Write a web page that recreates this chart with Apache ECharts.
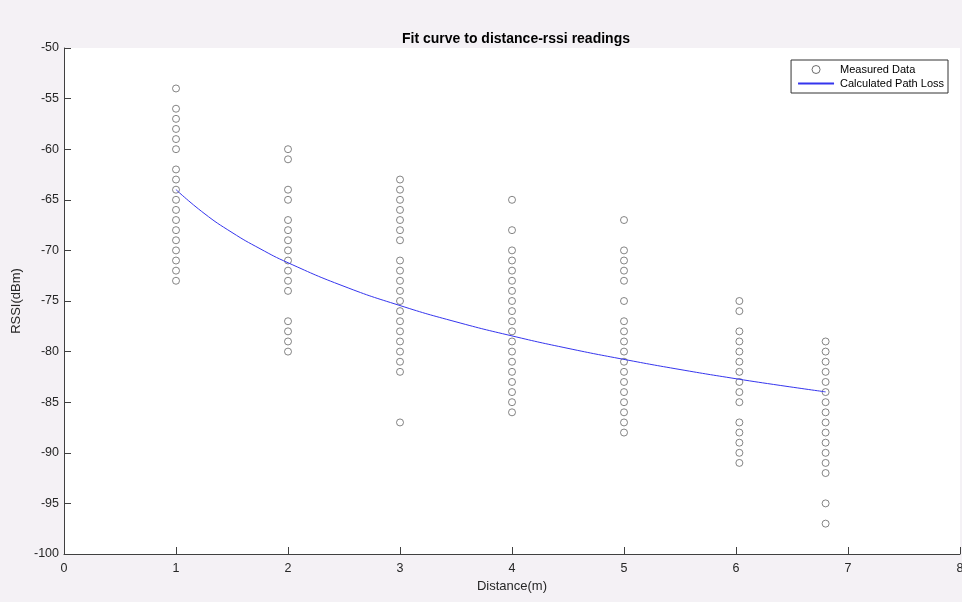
<!DOCTYPE html>
<html>
<head>
<meta charset="utf-8">
<script src="https://cdn.jsdelivr.net/npm/echarts@6/dist/echarts.min.js"></script>
<style>
  html, body { margin: 0; padding: 0; background: #f4f1f5; }
  #chart { width: 962px; height: 602px; }
</style>
</head>
<body>
<div id="chart"></div>
<script>
// Measured RSSI readings (dBm) grouped by distance (m)
const distances = [1, 2, 3, 4, 5, 6.03, 6.8];
const rssiAt1 = [-54, -56, -57, -58, -59, -60, -62, -63, -64, -65, -66, -67, -68, -69, -70, -71, -72, -73];
const rssiAt2 = [-60, -61, -64, -65, -67, -68, -69, -70, -71, -72, -73, -74, -77, -78, -79, -80];
const rssiAt3 = [-63, -64, -65, -66, -67, -68, -69, -71, -72, -73, -74, -75, -76, -77, -78, -79, -80, -81, -82, -87];
const rssiAt4 = [-65, -68, -70, -71, -72, -73, -74, -75, -76, -77, -78, -79, -80, -81, -82, -83, -84, -85, -86];
const rssiAt5 = [-67, -70, -71, -72, -73, -75, -77, -78, -79, -80, -81, -82, -83, -84, -85, -86, -87, -88];
const rssiAt6 = [-75, -76, -78, -79, -80, -81, -82, -83, -84, -85, -87, -88, -89, -90, -91];
const rssiAt7 = [-79, -80, -81, -82, -83, -84, -85, -86, -87, -88, -89, -90, -91, -92, -95, -97];

// Path loss curve, sampled along distance
const curveDistance = [1, 1.25, 1.5, 1.75, 2, 2.5, 3, 3.5, 4, 4.5, 5, 5.5, 6, 6.4, 6.8];
const curveRssi = [-64.0, -66.33, -68.23, -69.83, -71.22, -73.55, -75.45, -77.06, -78.45, -79.68, -80.77, -81.77, -82.68, -83.35, -83.98];

// Axis ticks
const xTicks = [0, 1, 2, 3, 4, 5, 6, 7, 8];
const yTicks = [-100, -95, -90, -85, -80, -75, -70, -65, -60, -55, -50];

const groups = [rssiAt1, rssiAt2, rssiAt3, rssiAt4, rssiAt5, rssiAt6, rssiAt7];
const measured = [];
groups.forEach((vals, i) => vals.forEach(v => measured.push([distances[i], v])));
const curve = curveDistance.map((d, i) => [d, curveRssi[i]]);

const font = 'Liberation Sans, Arial, sans-serif';
const textColor = '#262626';
const axisColor = '#404040';
const markColor = '#555555';
const lineColor = '#3535ee';

const chart = echarts.init(document.getElementById('chart'), null, { renderer: 'canvas' });
chart.setOption({
  backgroundColor: '#f4f1f5',
  animation: false,
  title: {
    text: 'Fit curve to distance-rssi readings',
    left: 511, top: 27, textAlign: 'center',
    textStyle: { fontFamily: font, fontSize: 14, fontWeight: 'bold', color: '#000' }
  },
  grid: {
    left: 64, top: 48, right: 2, bottom: 48,
    outerBoundsMode: 'none',
    show: true, backgroundColor: '#ffffff', borderWidth: 0
  },
  legend: {
    orient: 'vertical',
    right: 14, top: 60,
    backgroundColor: '#ffffff',
    borderColor: '#333', borderWidth: 1, borderRadius: 0,
    padding: [4, 4, 4, 6],
    itemGap: 3, itemWidth: 36, itemHeight: 8,
    textStyle: { fontFamily: font, fontSize: 11, color: '#000', padding: [0, 0, 0, 1] },
    data: [
      { name: 'Measured Data', itemStyle: { color: '#ffffff', borderColor: '#333', borderWidth: 0.9 } },
      { name: 'Calculated Path Loss', itemStyle: { opacity: 0 } }
    ]
  },
  xAxis: {
    type: 'value', min: xTicks[0], max: xTicks[xTicks.length - 1], interval: 1,
    name: 'Distance(m)', nameLocation: 'middle', nameGap: 25,
    nameTextStyle: { fontFamily: font, fontSize: 13, color: textColor },
    axisLine: { show: true, lineStyle: { color: axisColor, width: 1 } },
    axisTick: { show: true, inside: true, length: 7, lineStyle: { color: axisColor } },
    axisLabel: { fontFamily: font, fontSize: 12.5, color: textColor, margin: 8 },
    splitLine: { show: false }
  },
  yAxis: {
    type: 'value', min: yTicks[0], max: yTicks[yTicks.length - 1], interval: 5,
    name: 'RSSI(dBm)', nameLocation: 'middle', nameGap: 33, nameRotate: 90,
    nameTextStyle: { fontFamily: font, fontSize: 13, color: textColor },
    axisLine: { show: true, lineStyle: { color: axisColor, width: 1 } },
    axisTick: { show: true, inside: true, length: 7, lineStyle: { color: axisColor } },
    axisLabel: { fontFamily: font, fontSize: 12.5, color: textColor, margin: 5 },
    splitLine: { show: false }
  },
  series: [
    {
      name: 'Measured Data',
      type: 'scatter',
      data: measured,
      symbol: 'circle',
      symbolSize: 7,
      itemStyle: { color: '#ffffff', borderColor: markColor, borderWidth: 0.9 },
      z: 2
    },
    {
      name: 'Calculated Path Loss',
      type: 'line',
      data: curve,
      smooth: true,
      symbol: 'none',
      lineStyle: { color: lineColor, width: 1 },
      itemStyle: { color: lineColor },
      z: 3
    }
  ]
});
</script>
</body>
</html>
